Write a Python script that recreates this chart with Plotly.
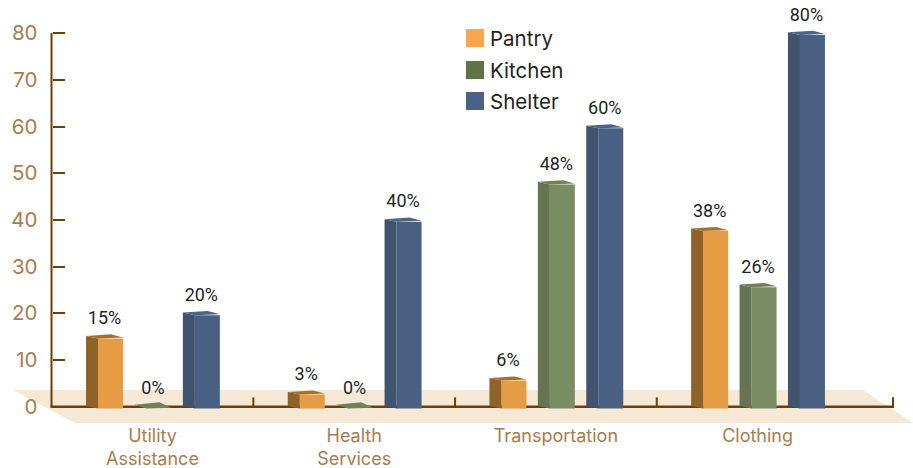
import plotly.graph_objects as go

categories = ["Utility<br>Assistance", "Health<br>Services", "Transportation", "Clothing"]
pantry = [15, 3, 6, 38]
kitchen = [0, 0, 48, 26]
shelter = [20, 40, 60, 80]
y_ticks = [0, 10, 20, 30, 40, 50, 60, 70, 80]

W, H = 913, 468
PX_X0, PX_BAND = 152.5, 201.7      # pixel of first category, pixels per category
PX_Y0, PX_UNIT = 406.7, 4.67       # pixel of value 0, pixels per value unit
PLOT_BOTTOM = 423

def xd(px):
    return (px - PX_X0) / PX_BAND

def yd(py):
    return (PX_Y0 - py) / PX_UNIT

pos = list(range(len(categories)))
BAR_W = 25 / PX_BAND
DX = 12 / PX_BAND
DY = 2.6 / PX_UNIT
BASE = -0.4
TEXT = "#231f20"
BROWN = "#6b3e0a"
TAN = "#a97c50"
FONT = "Inter, Lato, sans-serif"

series = [
    ("Pantry", pantry, -0.27, "#e59c44", "#8f6229", "#a5702c", "#fba64a"),
    ("Kitchen", kitchen, -0.03, "#7a8c63", "#667454", "#6f8159", "#5f7445"),
    ("Shelter", shelter, 0.21, "#4a6082", "#40546f", "#4d6486", "#4a6285"),
]

fig = go.Figure()

for name, vals, off, front, side, top, _ in series:
    sx, sy, ux, uy = [], [], [], []
    for p, v in zip(pos, vals):
        l = p + off
        back = DY * 1.5 if v == 0 else DY
        sx += [l, l - DX, l - DX, l, None]
        sy += [BASE, BASE + DY, v + BASE + DY, v + BASE, None]
        ux += [l, l - DX, l - DX + BAR_W, l + BAR_W, None]
        uy += [v + BASE, v + BASE + back, v + BASE + back * 1.6, v + BASE + 0.2, None]
    fig.add_trace(go.Bar(x=pos, y=vals, base=BASE, width=BAR_W, offset=off, name=name,
                         marker=dict(color=front, line=dict(width=0)), showlegend=False))
    fig.add_trace(go.Scatter(x=sx, y=sy, mode="lines", fill="toself", fillcolor=side,
                             line=dict(width=0, color=side), hoverinfo="skip", showlegend=False))
    fig.add_trace(go.Scatter(x=ux, y=uy, mode="lines", fill="toself", fillcolor=top,
                             line=dict(width=0, color=top), hoverinfo="skip", showlegend=False))
    fig.add_trace(go.Scatter(x=[p + off + 6.5 / PX_BAND for p in pos], y=[v + 1.7 for v in vals],
                             mode="text", text=[f"{v}%" for v in vals], textposition="top center",
                             textfont=dict(family="Roboto, sans-serif", size=18, color=TEXT),
                             hoverinfo="skip", showlegend=False))

# floor, then axis lines and baseline ticks, all underneath the bars
shapes = [dict(type="path", layer="below", xref="paper", yref="paper",
               path=f"M{13/W},{1-390/PLOT_BOTTOM} L{863/W},{1-390/PLOT_BOTTOM} "
                    f"L1,{1-423/PLOT_BOTTOM} L{75/W},{1-423/PLOT_BOTTOM} Z",
               fillcolor="#f5e8d5", line=dict(width=0))]
shapes.append(dict(type="line", layer="below", xref="x", yref="y", x0=xd(51.5), x1=xd(51.5), y0=0, y1=80,
                   line=dict(color=BROWN, width=2)))
shapes.append(dict(type="line", layer="below", xref="x", yref="y", x0=xd(50.5), x1=xd(894), y0=0, y1=0,
                   line=dict(color=BROWN, width=2.5)))
for t in [0.5, 1.5, 2.5, xd(893)]:
    shapes.append(dict(type="line", layer="below", xref="x", yref="y", x0=t, x1=t, y0=0, y1=2,
                       line=dict(color=BROWN, width=2)))

annotations = []
for (name, _, _, _, _, _, swatch), cy in zip(series, [38, 70, 101]):
    shapes.append(dict(type="rect", xref="paper", yref="paper", x0=466 / W, x1=484 / W,
                       y0=1 - (cy + 9) / PLOT_BOTTOM, y1=1 - (cy - 9) / PLOT_BOTTOM,
                       fillcolor=swatch, line=dict(width=0)))
    annotations.append(dict(xref="paper", yref="paper", x=489 / W, y=1 - cy / PLOT_BOTTOM,
                            xanchor="left", yanchor="middle", showarrow=False, text=name,
                            xshift=-1, font=dict(family=FONT, size=20.5, color=TEXT)))

fig.update_layout(
    width=W, height=H, margin=dict(l=0, r=0, t=0, b=H - PLOT_BOTTOM),
    paper_bgcolor="white", plot_bgcolor="rgba(0,0,0,0)", barmode="overlay",
    showlegend=False, shapes=shapes, annotations=annotations,
    xaxis=dict(range=[xd(0), xd(W)], tickvals=pos, ticktext=categories, showgrid=False,
               zeroline=False, showline=False, ticks="", fixedrange=True,
               tickfont=dict(family=FONT, size=18, color=TAN)),
    yaxis=dict(range=[yd(PLOT_BOTTOM), yd(0)], tickvals=y_ticks, showgrid=False, zeroline=False,
               showline=False, anchor="free", position=51.5 / W, ticks="inside", ticklen=12,
               tickwidth=2, tickcolor=BROWN, ticklabelstandoff=14, fixedrange=True,
               tickfont=dict(family=FONT, size=20.5, color=TAN)),
)

fig.write_html("out.html", config=dict(displayModeBar=False), post_script="document.body.style.margin='0';")
